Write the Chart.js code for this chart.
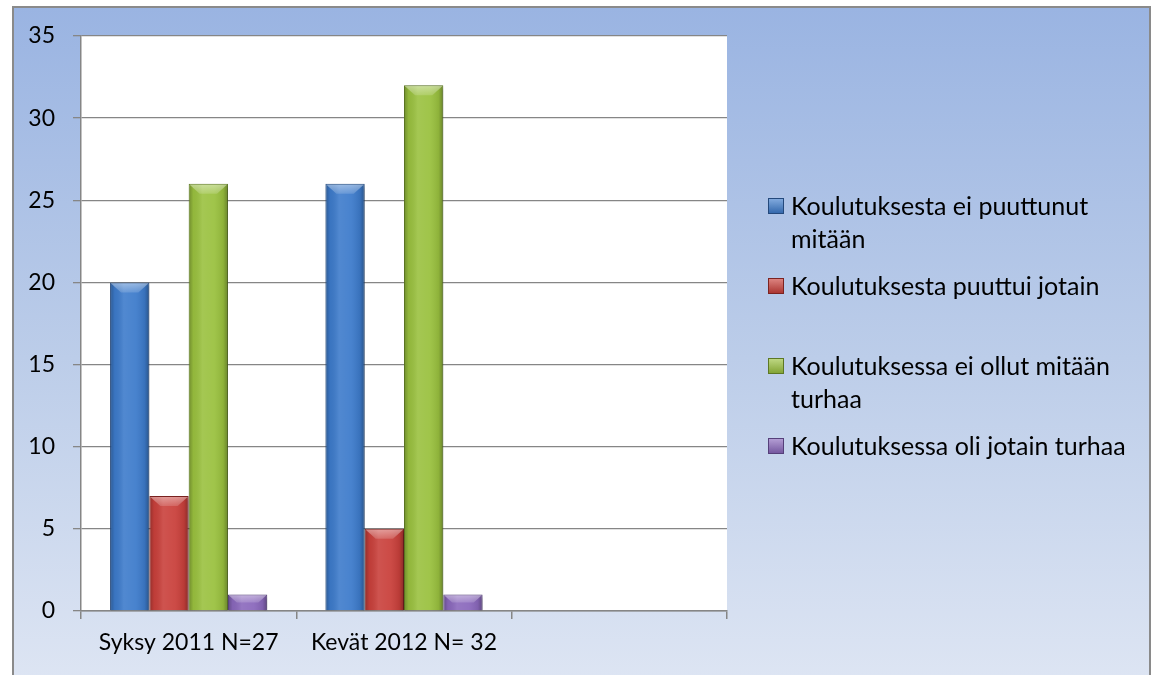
<!DOCTYPE html>
<html>
<head>
<meta charset="utf-8">
<script src="https://cdn.jsdelivr.net/npm/chart.js@4.4.0/dist/chart.umd.min.js"></script>
<style>
  html, body { margin: 0; padding: 0; background: #ffffff; width: 1157px; height: 675px; overflow: hidden; }
  #frame { position: absolute; left: 12px; top: 6px; width: 1135px; height: 700px;
    border: 2px solid #8a8a8a;
    background: linear-gradient(to bottom, #9ab4e2 0%, #bccde9 50%, #e0e7f4 100%); }
  #wrap { position: absolute; left: 0; top: 0; width: 1157px; height: 675px; }
  #legend { position: absolute; left: 768px; top: 189px; font-family: Lato, "Open Sans", sans-serif; font-size: 25px; color: #000; }
  .item { display: flex; height: 80px; align-items: flex-start; }
  .mark { width: 16px; height: 16px; margin-top: 9px; flex: none; box-sizing: border-box; }
  .txt { margin-left: 7px; width: 352px; line-height: 33px; }
</style>
</head>
<body>
<div id="frame"></div>
<div id="wrap"><canvas id="c" width="1157" height="675"></canvas></div>
<div id="legend"></div>
<script>
// ---- data ----
const categories = ['Syksy 2011 N=27', 'Kevät 2012 N= 32', ''];
const seriesNames = [
  'Koulutuksesta ei puuttunut mitään',
  'Koulutuksesta puuttui jotain',
  'Koulutuksessa ei ollut mitään turhaa',
  'Koulutuksessa oli jotain turhaa'
];
const eiPuuttunut = [20, 26, null];
const puuttui = [7, 5, null];
const eiTurhaa = [26, 32, null];
const jotainTurhaa = [1, 1, null];
const yTicks = [0, 5, 10, 15, 20, 25, 30, 35];

// ---- styles ----
const fills = ['#3d7bcb', '#c9403b', '#9ac13f', '#8a68bc'];
const borders = ['#24497c', '#7c2321', '#5d7824', '#55407a'];
const fontFamily = 'Lato, "Open Sans", sans-serif';
const axisGray = '#868686';

const seriesValues = [eiPuuttunut, puuttui, eiTurhaa, jotainTurhaa];

const plotBg = {
  id: 'plotBg',
  beforeDraw(chart) {
    const { ctx, chartArea: a } = chart;
    ctx.save();
    ctx.fillStyle = '#ffffff';
    ctx.fillRect(a.left, a.top, a.right - a.left, a.bottom - a.top);
    ctx.restore();
  }
};

const barShadow = {
  id: 'barShadow',
  beforeDatasetsDraw(chart) {
    const ctx = chart.ctx;
    ctx.save();
    ctx.shadowColor = 'rgba(0,0,0,0.28)';
    ctx.shadowBlur = 4;
    ctx.shadowOffsetX = 2;
    ctx.shadowOffsetY = 2;
  },
  afterDatasetsDraw(chart) {
    const ctx = chart.ctx;
    ctx.restore();
    chart.data.datasets.forEach((ds, i) => {
      const meta = chart.getDatasetMeta(i);
      meta.data.forEach((el, j) => {
        if (ds.data[j] == null) return;
        const p = el.getProps(['x', 'y', 'base', 'width'], true);
        const l = p.x - p.width / 2, r = p.x + p.width / 2;
        const t = p.y, b = p.base;
        ctx.save();
        const g = ctx.createLinearGradient(l, 0, r, 0);
        g.addColorStop(0, 'rgba(0,0,0,0.28)');
        g.addColorStop(0.12, 'rgba(0,0,0,0.05)');
        g.addColorStop(0.35, 'rgba(255,255,255,0.10)');
        g.addColorStop(0.65, 'rgba(255,255,255,0.06)');
        g.addColorStop(0.88, 'rgba(0,0,0,0.08)');
        g.addColorStop(1, 'rgba(0,0,0,0.32)');
        ctx.fillStyle = g;
        ctx.fillRect(l + 1, t + 1, r - l - 2, b - t - 1);
        const d = Math.min(10, (b - t) / 2);
        ctx.beginPath();
        ctx.moveTo(l + 1, t + 1);
        ctx.lineTo(r - 1, t + 1);
        ctx.lineTo(r - 1 - d, t + d);
        ctx.lineTo(l + 1 + d, t + d);
        ctx.closePath();
        const tg = ctx.createLinearGradient(0, t, 0, t + d);
        tg.addColorStop(0, 'rgba(255,255,255,0.45)');
        tg.addColorStop(1, 'rgba(255,255,255,0.15)');
        ctx.fillStyle = tg;
        ctx.fill();
        ctx.restore();
      });
    });
  }
};

const ctx = document.getElementById('c').getContext('2d');
new Chart(ctx, {
  type: 'bar',
  data: {
    labels: categories,
    datasets: seriesNames.map((name, i) => ({
      label: name,
      data: seriesValues[i],
      backgroundColor: fills[i],
      borderColor: borders[i],
      borderWidth: 1,
      barPercentage: 1.0,
      categoryPercentage: 0.73
    }))
  },
  options: {
    responsive: false,
    animation: false,
    devicePixelRatio: 1,
    layout: { padding: { top: 36, right: 430, left: 0, bottom: 0 } },
    plugins: { legend: { display: false }, tooltip: { enabled: false } },
    scales: {
      x: {
        offset: true,
        grid: { offset: true, drawOnChartArea: false, tickLength: 8, color: axisGray, lineWidth: 1.5 },
        border: { color: axisGray, width: 1.5 },
        ticks: { color: '#000', font: { family: fontFamily, size: 23 }, padding: 10, maxRotation: 0, autoSkip: false },
        afterFit(s) { s.height = 64; }
      },
      y: {
        min: 0, max: 35,
        afterBuildTicks(s) { s.ticks = yTicks.map(v => ({ value: v })); },
        grid: { tickLength: 8, color: axisGray, lineWidth: 1.3 },
        border: { color: axisGray, width: 1.5 },
        ticks: { color: '#000', font: { family: fontFamily, size: 23 }, padding: 18 },
        afterFit(s) { s.width = 81; }
      }
    }
  },
  plugins: [plotBg, barShadow]
});

// HTML legend
const legend = document.getElementById('legend');
seriesNames.forEach((name, i) => {
  const it = document.createElement('div');
  it.className = 'item';
  const m = document.createElement('div');
  m.className = 'mark';
  m.style.background = 'linear-gradient(to bottom, rgba(255,255,255,0.35), rgba(0,0,0,0.15)), ' + fills[i];
  m.style.border = '1px solid ' + borders[i];
  const t = document.createElement('div');
  t.className = 'txt';
  t.textContent = name;
  it.appendChild(m); it.appendChild(t);
  legend.appendChild(it);
});
</script>
</body>
</html>
